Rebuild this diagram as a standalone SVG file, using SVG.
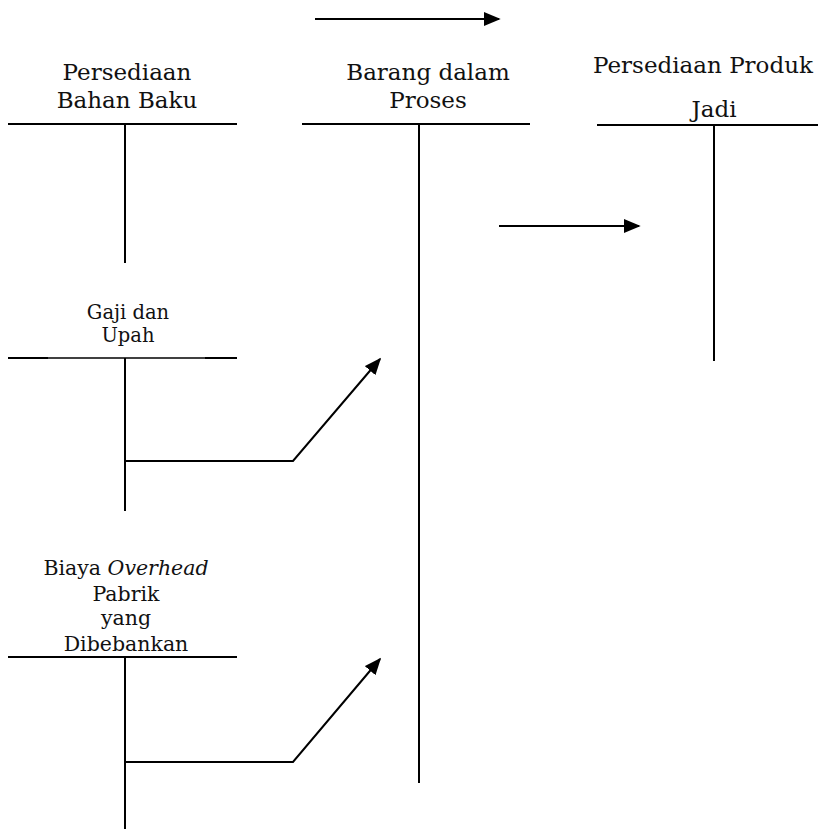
<svg xmlns="http://www.w3.org/2000/svg" width="818" height="830" viewBox="0 0 818 830">
<style>
text{font-family:"DejaVu Serif","Liberation Serif",serif;fill:#111;text-anchor:middle}
.t{font-size:23px}
.s{font-size:19.5px}
.b{font-size:20.5px}
.ln{stroke:#000;stroke-width:2;fill:none}
.cn{stroke:#000;stroke-width:2;fill:none}
</style>
<defs>
<marker id="ah2" viewBox="0 0 10 10" refX="9" refY="5" markerWidth="17" markerHeight="14" markerUnits="userSpaceOnUse" orient="auto" preserveAspectRatio="none">
<path d="M0,0 L10,5 L0,10 Z" fill="#000"/>
</marker>
</defs>
<g id="bahan-baku">
<text class="t" x="127" y="80">Persediaan</text>
<text class="t" x="127" y="108">Bahan Baku</text>
<line class="ln" x1="8" y1="124" x2="237" y2="124"/>
<line class="ln" x1="125" y1="124" x2="125" y2="263"/>
</g>
<g id="barang-dalam-proses">
<text class="t" x="428" y="80">Barang dalam</text>
<text class="t" x="428" y="108">Proses</text>
<line class="ln" x1="302" y1="124" x2="530" y2="124"/>
<line class="ln" x1="419" y1="124" x2="419" y2="783"/>
</g>
<g id="produk-jadi">
<text class="t" x="703" y="73">Persediaan Produk</text>
<text class="t" x="714" y="117">Jadi</text>
<line class="ln" x1="597" y1="125" x2="818" y2="125"/>
<line class="ln" x1="714" y1="125" x2="714" y2="361"/>
</g>
<g id="gaji-upah">
<text class="s" x="128" y="319">Gaji dan</text>
<text class="s" x="128" y="342">Upah</text>
<line stroke="#000" stroke-width="1.3" x1="8" y1="358" x2="237" y2="358"/>
<line class="ln" x1="8" y1="358" x2="48" y2="358"/>
<line class="ln" x1="205" y1="358" x2="237" y2="358"/>
<line class="ln" x1="125" y1="358" x2="125" y2="511"/>
</g>
<g id="overhead">
<text class="b" x="126" y="575">Biaya <tspan font-style="italic">Overhead</tspan></text>
<text class="b" x="126" y="601">Pabrik</text>
<text class="b" x="126" y="625">yang</text>
<text class="b" x="126" y="651">Dibebankan</text>
<line class="ln" x1="8" y1="657" x2="237" y2="657"/>
<line class="ln" x1="125" y1="657" x2="125" y2="829"/>
</g>
<g id="connectors">
<line class="cn" x1="315" y1="19" x2="499" y2="19" marker-end="url(#ah2)"/>
<line class="cn" x1="499" y1="226" x2="639" y2="226" marker-end="url(#ah2)"/>
<polyline class="cn" points="125,461 293,461 380,359" marker-end="url(#ah2)"/>
<polyline class="cn" points="125,762 293,762 380,659" marker-end="url(#ah2)"/>
</g>
</svg>
